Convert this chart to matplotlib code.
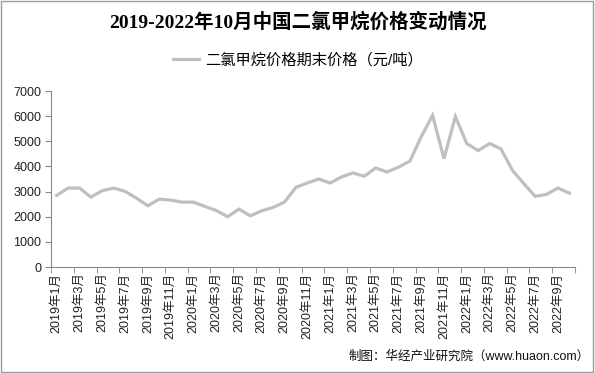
import matplotlib
matplotlib.use('Agg')
import matplotlib.pyplot as plt
from matplotlib.patches import Rectangle

plt.rcParams['font.family'] = ['Liberation Sans', 'Noto Sans CJK SC']

# 月份
months = [f'{y}年{m}月' for y in range(2019, 2023) for m in range(1, 13)][:46]

# 二氯甲烷价格期末价格（元/吨）
prices = [2850, 3140, 3140, 2780, 3035, 3140, 3010, 2740, 2435, 2700,
          2660, 2580, 2580, 2410, 2250, 2000, 2300, 2035, 2235, 2370,
          2580, 3170, 3340, 3500, 3340, 3580, 3740, 3610, 3940, 3780,
          3970, 4210, 5180, 6030, 4310, 5980, 4910, 4630, 4910, 4700,
          3850, 3320, 2810, 2890, 3140, 2940]

y_ticks = list(range(0, 8000, 1000))

fig = plt.figure(figsize=(5.95, 3.73), dpi=100)
ax = fig.add_axes([51 / 595, 1 - 267 / 373, 524 / 595, 176 / 373])

x = list(range(len(months)))
ax.plot(x, prices, color='#BFBFBF', linewidth=2.3, solid_joinstyle='miter',
        label='二氯甲烷价格期末价格（元/吨）')

ax.set_xlim(-0.5, len(months) - 0.5)
ax.set_ylim(0, 7000)
ax.set_yticks(y_ticks)
ax.tick_params(axis='y', labelsize=9, colors='#222222', length=4, color='#888888', pad=3)

ax.set_xticks(x[::2])
ax.set_xticklabels(months[::2], rotation=90, fontsize=9, color='#222222')
ax.set_xticks([i - 0.5 for i in range(0, len(months) + 1, 2)], minor=True)
ax.tick_params(axis='x', which='major', length=0, pad=4)
ax.tick_params(axis='x', which='minor', length=4, color='#888888')

for s in ['top', 'right']:
    ax.spines[s].set_visible(False)
for s in ['left', 'bottom']:
    ax.spines[s].set_color('#888888')

fig.text(0.5, 1 - 22 / 373, '2019-2022年10月中国二氯甲烷价格变动情况',
         ha='center', va='center', fontsize=14, fontweight='bold',
         family=['Liberation Serif', 'Noto Sans CJK SC'])

ax.legend(loc='center', bbox_to_anchor=(0.5, 1 - 60 / 373), bbox_transform=fig.transFigure,
          frameon=False, fontsize=11, handlelength=1.7, handletextpad=0.4)

fig.text(1 - 5 / 595, 1 - 357 / 373, '制图：华经产业研究院（www.huaon.com）',
         ha='right', va='center', fontsize=9, color='#111111')

fig.patches.append(Rectangle((0.002, 0.003), 0.995, 0.994, transform=fig.transFigure,
                             fill=False, edgecolor='#9a9a9a', linewidth=1))

fig.savefig('out.png', dpi=100)
